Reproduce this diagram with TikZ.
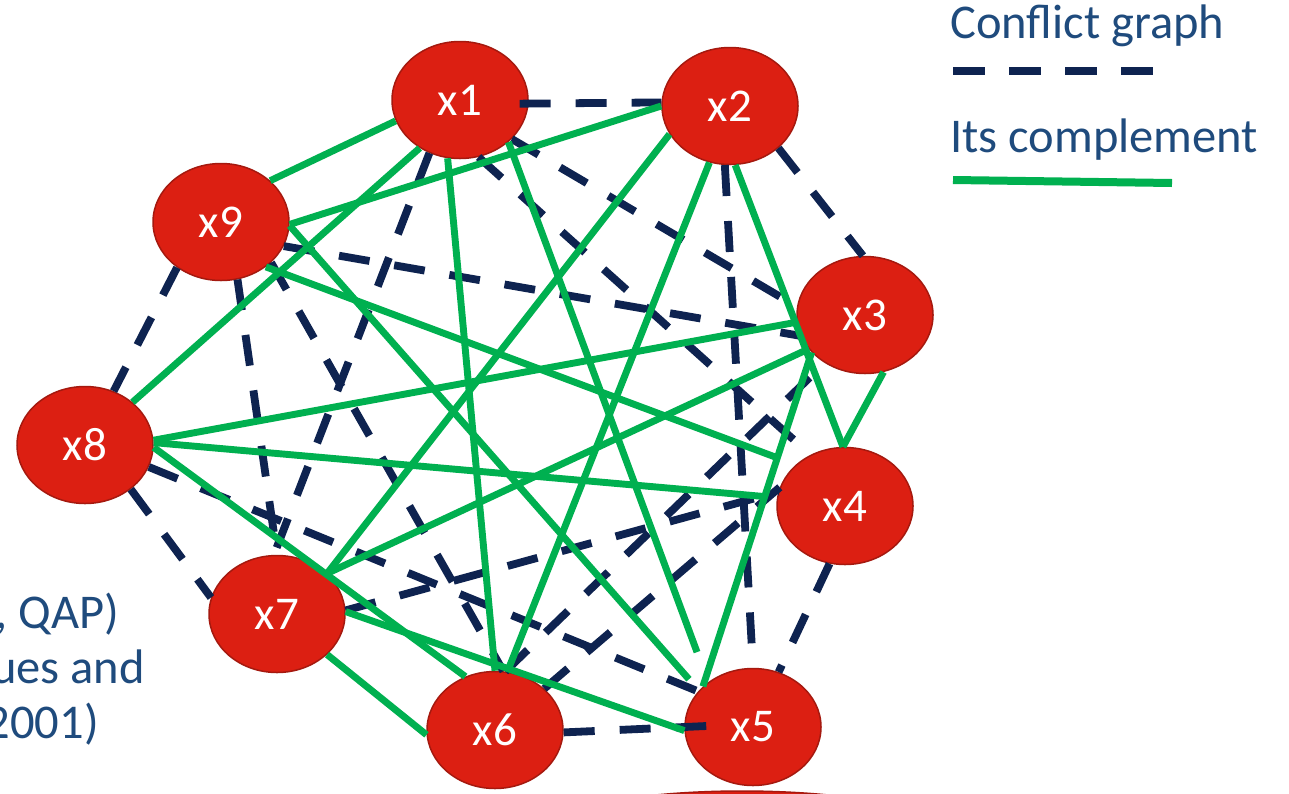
\documentclass[tikz,border=0pt]{standalone}
\usepackage{fontspec}
\setmainfont{Carlito}
\usetikzlibrary{shapes.geometric}
\definecolor{navy}{RGB}{14,35,80}
\definecolor{grn}{RGB}{0,176,80}
\definecolor{txtblue}{RGB}{31,75,125}
\definecolor{nodered}{RGB}{220,31,18}
\definecolor{nodeborder}{RGB}{165,25,15}
\begin{document}
\begin{tikzpicture}[x=1pt,y=-1pt,
  vtx/.style={ellipse, fill=nodered, draw=nodeborder, line width=1.5pt,
    minimum width=136pt, minimum height=117pt, inner sep=0pt,
    text=white, font=\fontsize{47}{47}\selectfont},
  conf/.style={draw=navy, line width=7.8pt, dash pattern=on 31pt off 25pt},
  comp/.style={draw=grn, line width=6.9pt},
  lbl/.style={text=txtblue, font=\fontsize{48.5}{55}\selectfont, inner sep=0pt}]
\useasboundingbox (0,0) rectangle (1289,793);
\fill[white] (0,0) rectangle (1289,793);

% partly visible shape at the bottom edge
\begin{scope}
\clip (0,0) rectangle (1289,793);
\node[ellipse, fill=nodered, draw=nodeborder, line width=1.5pt,
  minimum width=440pt, minimum height=100pt] (x0) at (742,841) {};
\end{scope}

% vertices
\node[vtx] (x1) at (460,100) {x1};
\node[vtx] (x2) at (730,106) {x2};
\node[vtx] (x3) at (865,315) {x3};
\node[vtx] (x4) at (845,506) {x4};
\node[vtx] (x5) at (753,727) {x5};
\node[vtx] (x6) at (495,730) {x6};
\node[vtx] (x7) at (277,614) {x7};
\node[vtx] (x8) at (85,445) {x8};
\node[vtx] (x9) at (221,222) {x9};

% conflict graph (dashed)
\draw[conf, shorten <=-9pt] (x1.357) -- (x2.177);
\draw[conf] (x2.319) -- (x3.92);
\draw[conf] (x9.226) -- (x8.62);
\draw[conf] (x8.316) -- (x7.166);
\draw[conf, shorten >=-22pt] (x6.358) -- (x5.180);
\draw[conf] (x4.255) -- (x5.65);
\draw[conf] (x1.323) -- (x3.173);
\draw[conf] (x1.288) -- (x4.124);
\draw[conf] (x2.265) -- (x5.90);
\draw[conf] (x9.286) -- (x7.90);
\draw[conf] (x9.321) -- (x6.82);
\draw[conf] (x1.240) -- (x7.93);
\draw[conf] (x8.341) -- (x5.147);
\draw[conf] (x7.3) -- (x4.168);
\draw[conf] (x6.80) -- (x3.230);
\draw[conf] (x6.40) -- (x4.164);
\draw[conf] (x9.339) -- (x3.198);

% complement (green)
\draw[comp] (x1.198) -- (x9.40);
\draw[comp] (x2.180) -- (x9.358);
\draw[comp] (x1.230) -- (x8.42);
\draw[comp] (x1.258) -- (x6.90);
\draw[comp, shorten >=32pt] (x1.319) -- (x5.135);
\draw[comp] (x2.205) -- (x7.39);
\draw[comp] (x2.250) -- (x6.78);
\draw[comp] (x2.275) -- (x4.92);
\draw[comp] (x3.288) -- (x4.92);
\draw[comp] (x3.186) -- (x8.4);
\draw[comp] (x3.211) -- (x7.39);
\draw[comp] (x3.215) -- (x5.141);
\draw[comp, shorten >=20pt] (x9.315) -- (x4.140);
\draw[comp, shorten >=15pt] (x9.357) -- (x5.146);
\draw[comp, shorten >=10pt] (x8.2) -- (x4.173);
\draw[comp] (x8.358) -- (x6.119);
\draw[comp] (x7.2) -- (x5.183);
\draw[comp] (x7.321) -- (x6.184);

% legend
\node[lbl, anchor=base west] (lg1) at (950,38) {Conflict graph};
\coordinate (d1) at (953,71);
\coordinate (d2) at (1153,71);
\draw[conf, line width=8pt, dash pattern=on 32pt off 24pt] (d1) -- (d2);
\node[lbl, anchor=base west] (lg2) at (950,152) {Its complement};
\coordinate (g1) at (953,180);
\coordinate (g2) at (1172,183);
\draw[comp, line width=8pt] (g1) -- (g2);

% cut-off text on the left
\node[lbl, anchor=base east] (t1) at (119,628) {, QAP)};
\node[lbl, anchor=base east] (t2) at (145,683) {ues and};
\node[lbl, anchor=base east] (t3) at (99,738) {2001)};
\end{tikzpicture}
\end{document}
